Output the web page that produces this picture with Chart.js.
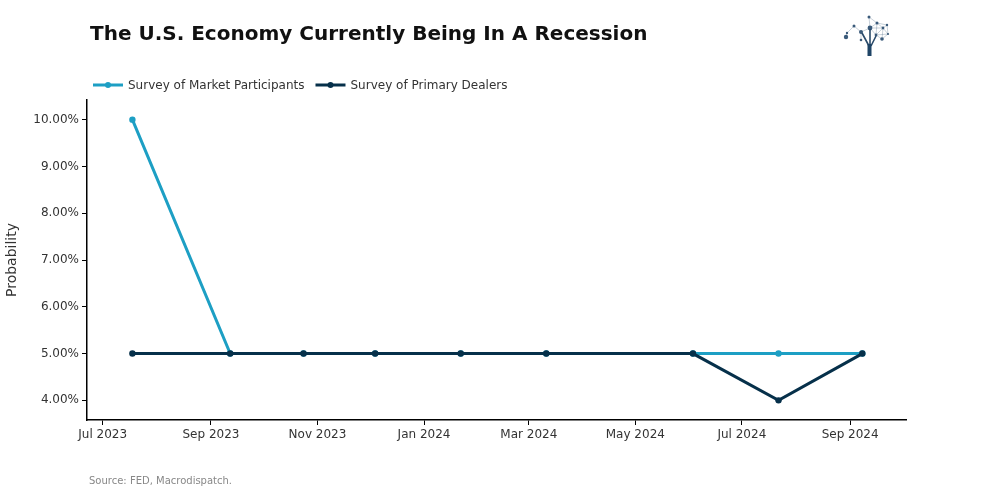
<!DOCTYPE html>
<html>
<head>
<meta charset="utf-8">
<script src="https://cdn.jsdelivr.net/npm/chart.js@4"></script>
<style>
  html, body { margin: 0; padding: 0; background: #fff; }
  #wrap { width: 987px; height: 500px; position: relative; }
</style>
</head>
<body>
<div id="wrap"><canvas id="chart" width="987" height="500"></canvas></div>
<script>
// survey dates (pre-FOMC)
const surveyDates = ['2023-07-18', '2023-09-12', '2023-10-24', '2023-12-04', '2024-01-22',
  '2024-03-11', '2024-06-03', '2024-07-22', '2024-09-08'];
const marketParticipants = [10, 5, 5, 5, 5, 5, 5, 5, 5];
const primaryDealers = [5, 5, 5, 5, 5, 5, 5, 4, 5];

const xTickDates = ['2023-07-01', '2023-09-01', '2023-11-01', '2024-01-01', '2024-03-01', '2024-05-01', '2024-07-01', '2024-09-01'];
const xTickLabels = ['Jul 2023', 'Sep 2023', 'Nov 2023', 'Jan 2024', 'Mar 2024', 'May 2024', 'Jul 2024', 'Sep 2024'];
const yTicks = [4, 5, 6, 7, 8, 9, 10];

const TEAL = '#1d9fc4';
const DARK = '#06304a';
const FONT = "'DejaVu Sans', Verdana, sans-serif";

// dates -> day numbers so a plain linear scale can be used (no date adapter)
const toDay = s => {
  const [y, m, d] = s.split('-').map(Number);
  return Date.UTC(y, m - 1, d) / 864e5;
};

const series = (vals) => surveyDates.map((d, i) => ({ x: toDay(d), y: vals[i] }));

const legendItems = [
  { label: 'Survey of Market Participants', color: TEAL },
  { label: 'Survey of Primary Dealers', color: DARK },
];

// title, legend, source and logo drawn straight on the canvas
const decorPlugin = {
  id: 'decor',
  afterDraw(chart) {
    const ctx = chart.ctx;
    ctx.save();
    ctx.fillStyle = '#111';
    ctx.font = 'bold 20px ' + FONT;
    ctx.textBaseline = 'middle';
    ctx.fillText('The U.S. Economy Currently Being In A Recession', 90, 35);

    // legend
    let x = 93;
    ctx.font = '12px ' + FONT;
    legendItems.forEach(item => {
      ctx.strokeStyle = item.color;
      ctx.lineWidth = 3;
      ctx.beginPath();
      ctx.moveTo(x, 85);
      ctx.lineTo(x + 30, 85);
      ctx.stroke();
      ctx.fillStyle = item.color;
      ctx.beginPath();
      ctx.arc(x + 15, 85, 3, 0, Math.PI * 2);
      ctx.fill();
      ctx.fillStyle = '#333';
      ctx.fillText(item.label, x + 35, 85.5);
      x += 35 + ctx.measureText(item.label).width + 11;
    });

    // source
    ctx.font = '10px ' + FONT;
    ctx.fillStyle = '#888';
    ctx.fillText('Source: FED, Macrodispatch.', 89, 481);

    // small tree logo
    const nodes = [[846, 37, 2.2], [847, 33, 1.2], [854, 26, 1.5], [861, 32, 2], [869, 17, 1.5],
      [870, 28, 2.4], [877, 23, 1.5], [883, 28, 1.4], [882, 39, 1.8], [876, 35, 1.4],
      [861, 40, 1.3], [887, 25, 1.2], [888, 34, 1.1]];
    ctx.strokeStyle = 'rgba(60,90,120,0.35)';
    ctx.lineWidth = 0.8;
    ctx.beginPath();
    for (let i = 0; i < nodes.length; i++) {
      for (let j = i + 1; j < nodes.length; j++) {
        const dx = nodes[i][0] - nodes[j][0], dy = nodes[i][1] - nodes[j][1];
        if (dx * dx + dy * dy < 170) {
          ctx.moveTo(nodes[i][0], nodes[i][1]);
          ctx.lineTo(nodes[j][0], nodes[j][1]);
        }
      }
    }
    ctx.stroke();
    ctx.fillStyle = '#3a5a7a';
    nodes.forEach(([nx, ny, r]) => {
      ctx.beginPath();
      ctx.arc(nx, ny, r, 0, Math.PI * 2);
      ctx.fill();
    });
    ctx.strokeStyle = '#2a4a6a';
    ctx.lineWidth = 1.6;
    ctx.beginPath();
    ctx.moveTo(869, 46); ctx.lineTo(862, 33);
    ctx.moveTo(871, 46); ctx.lineTo(876, 36);
    ctx.moveTo(870, 46); ctx.lineTo(870, 29);
    ctx.stroke();
    ctx.fillStyle = '#1f4466';
    ctx.fillRect(867.5, 44, 4, 12);
    ctx.restore();
  }
};

new Chart(document.getElementById('chart'), {
  type: 'line',
  data: {
    datasets: [
      {
        label: 'Survey of Market Participants',
        data: series(marketParticipants),
        borderColor: TEAL,
        backgroundColor: TEAL,
        borderWidth: 3,
        pointRadius: 3.2,
        pointBorderWidth: 0,
        tension: 0,
        order: 1,
      },
      {
        label: 'Survey of Primary Dealers',
        data: series(primaryDealers),
        borderColor: DARK,
        backgroundColor: DARK,
        borderWidth: 3,
        pointRadius: 3.2,
        pointBorderWidth: 0,
        tension: 0,
        order: 0,
      },
    ],
  },
  options: {
    responsive: false,
    animation: false,
    layout: { padding: { top: 100, right: 81, bottom: 0, left: 4 } },
    plugins: {
      legend: { display: false },
      tooltip: { enabled: false },
    },
    scales: {
      x: {
        type: 'linear',
        min: toDay('2023-06-22'),
        max: toDay('2024-10-03'),
        afterBuildTicks: s => { s.ticks = xTickDates.map(d => ({ value: toDay(d) })); },
        afterFit: s => { s.height = 80; },
        ticks: {
          autoSkip: false,
          maxRotation: 0,
          color: '#333',
          font: { family: FONT, size: 12 },
          padding: 3,
          callback: (v, i) => xTickLabels[i],
        },
        grid: { drawOnChartArea: false, drawTicks: true, tickLength: 5, color: '#000', tickWidth: 1 },
        border: { display: true, color: '#000', width: 1.5 },
      },
      y: {
        min: 3.58,
        max: 10.42,
        afterBuildTicks: s => { s.ticks = yTicks.map(v => ({ value: v })); },
        afterFit: s => { s.width = 83; },
        title: {
          display: true,
          text: 'Probability',
          color: '#333',
          font: { family: FONT, size: 14 },
          padding: { top: 0, bottom: 0 },
        },
        ticks: {
          color: '#333',
          font: { family: FONT, size: 12 },
          padding: 3,
          callback: v => v.toFixed(2) + '%',
        },
        grid: { drawOnChartArea: false, drawTicks: true, tickLength: 5, color: '#000', tickWidth: 1 },
        border: { display: true, color: '#000', width: 1.5 },
      },
    },
  },
  plugins: [decorPlugin],
});
</script>
</body>
</html>
